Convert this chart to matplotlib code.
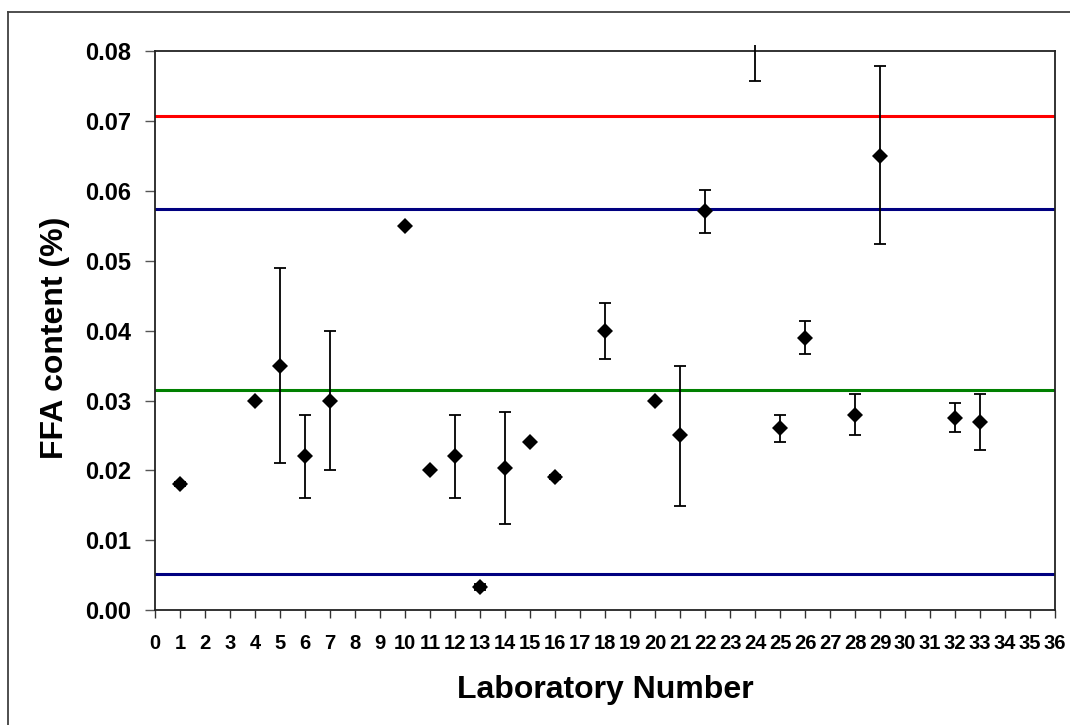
import matplotlib
matplotlib.use('Agg')
import matplotlib.pyplot as plt
from matplotlib.lines import Line2D

plt.rcParams['font.family'] = ['Liberation Sans', 'DejaVu Sans']
plt.rcParams['font.weight'] = 'bold'

# laboratory results (mean FFA content and error bar half-widths)
labs = [1, 4, 5, 6, 7, 10, 11, 12, 13, 14, 15, 16, 18, 20, 21, 22, 24, 25, 26, 28, 29, 32, 33]
ffa = [0.0180, 0.0300, 0.0350, 0.0220, 0.0300, 0.0550, 0.0200, 0.0220, 0.0033, 0.0204,
       0.0240, 0.0190, 0.0400, 0.0300, 0.0250, 0.0571, 0.0850, 0.0260, 0.0390, 0.0280,
       0.0651, 0.0275, 0.0270]
err_lo = [0.0003, 0.0, 0.0139, 0.0059, 0.0100, 0.0, 0.0, 0.0059, 0.0004, 0.0081,
          0.0, 0.0003, 0.0040, 0.0, 0.0101, 0.0031, 0.0092, 0.0020, 0.0023, 0.0029,
          0.0127, 0.0020, 0.0041]
err_hi = [0.0003, 0.0, 0.0140, 0.0059, 0.0100, 0.0, 0.0, 0.0059, 0.0004, 0.0080,
          0.0, 0.0003, 0.0040, 0.0, 0.0100, 0.0030, 0.0092, 0.0019, 0.0024, 0.0030,
          0.0128, 0.0021, 0.0040]

# reference lines: mean, mean +/- 2s, upper action limit
mean_line = 0.0315
limit_lines = [0.0052, 0.0575]
upper_line = 0.0708

x_ticks = list(range(0, 37))
y_ticks = [0.00, 0.01, 0.02, 0.03, 0.04, 0.05, 0.06, 0.07, 0.08]

fig = plt.figure(figsize=(10.7, 7.25), dpi=100)
ax = fig.add_axes([0.1449, 0.1586, 0.8411, 0.7704])

ax.axhline(upper_line, color='#FF0000', lw=2.2, zorder=2)
for v in limit_lines:
    ax.axhline(v, color='#000080', lw=2.2, zorder=2)
ax.axhline(mean_line, color='#008000', lw=2.2, zorder=2)

eb = ax.errorbar(labs, ffa, yerr=[err_lo, err_hi], fmt='D', color='black',
                 markersize=8.5, ecolor='black', elinewidth=1.3,
                 capsize=4.3, capthick=1.3, zorder=3)
eb.lines[0].set_markeredgewidth(0)

# excel lets error bars poke a little past the plot area
clip = plt.Rectangle((0, 0), 1, 1.012, transform=ax.transAxes)
for a in eb.lines[2]:
    a.set_clip_path(clip)

ax.set_xlim(0, 36)
ax.set_ylim(0, 0.08)
ax.set_xticks(x_ticks)
ax.set_xticklabels([str(t) for t in x_ticks])
ax.set_yticks(y_ticks)
ax.set_yticklabels(['%.2f' % t for t in y_ticks])

ax.tick_params(axis='x', direction='out', length=6, width=1, color='#333333',
               labelsize=14.5, pad=11)
ax.tick_params(axis='y', direction='out', length=7, width=1, color='#555555',
               labelsize=17, pad=10)
for s in ax.spines.values():
    s.set_linewidth(1.3)
    s.set_color('#222222')

ax.set_xlabel('Laboratory Number', fontsize=23, fontweight='bold', labelpad=16)
ax.set_ylabel('FFA content (%)', fontsize=23, fontweight='bold')
ax.yaxis.set_label_coords(-0.094, 0.487)

# outer chart-area border (only top and left visible)
fig.add_artist(Line2D([0.0075, 0.0075], [0, 0.9834], transform=fig.transFigure,
                      color='#404040', lw=1.3))
fig.add_artist(Line2D([0.0075, 1], [0.9834, 0.9834], transform=fig.transFigure,
                      color='#404040', lw=1.3))

fig.savefig('out.png', dpi=100)
